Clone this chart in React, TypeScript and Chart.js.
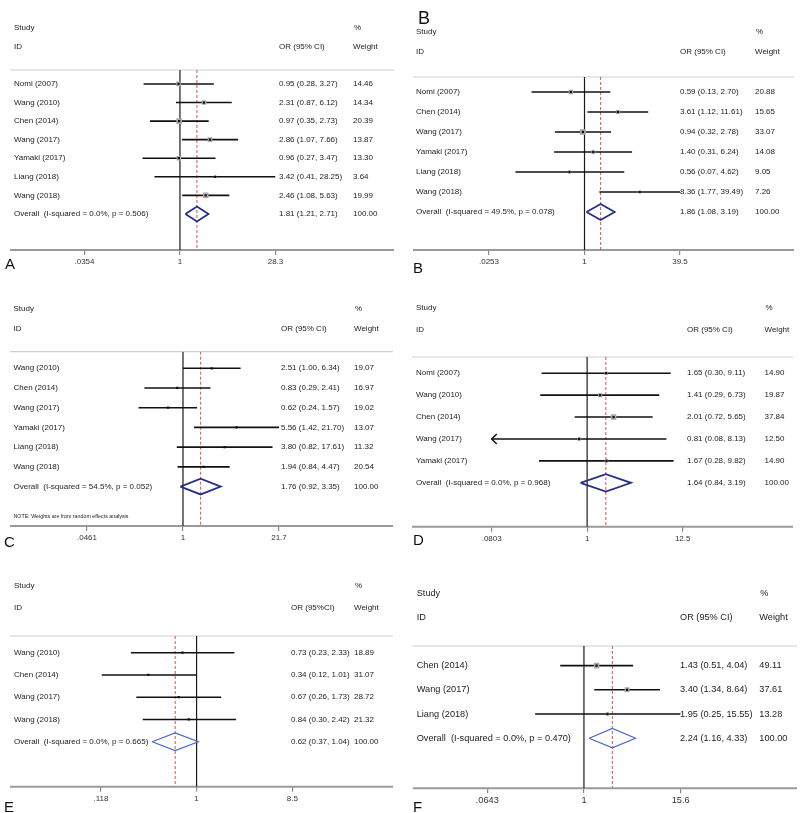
import React, { useEffect, useRef } from "react";
import { Chart, registerables } from "chart.js";
Chart.register(...registerables);

const FONT = '"Liberation Sans", Arial, Helvetica, sans-serif';

// ---------- Panel A ----------
const A_studies = ["Nomi (2007)", "Wang (2010)", "Chen (2014)", "Wang (2017)", "Yamaki (2017)", "Liang (2018)", "Wang (2018)"];
const A_or = [0.95, 2.31, 0.97, 2.86, 0.96, 3.42, 2.46];
const A_lo = [0.28, 0.87, 0.35, 1.07, 0.27, 0.41, 1.08];
const A_hi = [3.27, 6.12, 2.73, 7.66, 3.47, 28.25, 5.63];
const A_weight = [14.46, 14.34, 20.39, 13.87, 13.3, 3.64, 19.99];
const A_overall = [1.81, 1.21, 2.71];
const A_heterogeneity = ["0.0%", "0.506"];
const A_ticks = [0.0354, 1, 28.3];
const A_tickLabels = [".0354", "1", "28.3"];

// ---------- Panel B ----------
const B_studies = ["Nomi (2007)", "Chen (2014)", "Wang (2017)", "Yamaki (2017)", "Liang (2018)", "Wang (2018)"];
const B_or = [0.59, 3.61, 0.94, 1.4, 0.56, 8.36];
const B_lo = [0.13, 1.12, 0.32, 0.31, 0.07, 1.77];
const B_hi = [2.7, 11.61, 2.78, 6.24, 4.62, 39.49];
const B_weight = [20.88, 15.65, 33.07, 14.08, 9.05, 7.26];
const B_overall = [1.86, 1.08, 3.19];
const B_heterogeneity = ["49.5%", "0.078"];
const B_ticks = [0.0253, 1, 39.5];
const B_tickLabels = [".0253", "1", "39.5"];

// ---------- Panel C ----------
const C_studies = ["Wang (2010)", "Chen (2014)", "Wang (2017)", "Yamaki (2017)", "Liang (2018)", "Wang (2018)"];
const C_or = [2.51, 0.83, 0.62, 5.56, 3.8, 1.94];
const C_lo = [1.0, 0.29, 0.24, 1.42, 0.82, 0.84];
const C_hi = [6.34, 2.41, 1.57, 21.7, 17.61, 4.47];
const C_weight = [19.07, 16.97, 19.02, 13.07, 11.32, 20.54];
const C_overall = [1.76, 0.92, 3.35];
const C_heterogeneity = ["54.5%", "0.052"];
const C_ticks = [0.0461, 1, 21.7];
const C_tickLabels = [".0461", "1", "21.7"];

// ---------- Panel D ----------
const D_studies = ["Nomi (2007)", "Wang (2010)", "Chen (2014)", "Wang (2017)", "Yamaki (2017)"];
const D_or = [1.65, 1.41, 2.01, 0.81, 1.67];
const D_lo = [0.3, 0.29, 0.72, 0.08, 0.28];
const D_hi = [9.11, 6.73, 5.65, 8.13, 9.82];
const D_weight = [14.9, 19.87, 37.84, 12.5, 14.9];
const D_overall = [1.64, 0.84, 3.19];
const D_heterogeneity = ["0.0%", "0.968"];
const D_ticks = [0.0803, 1, 12.5];
const D_tickLabels = [".0803", "1", "12.5"];

// ---------- Panel E ----------
const E_studies = ["Wang (2010)", "Chen (2014)", "Wang (2017)", "Wang (2018)"];
const E_or = [0.73, 0.34, 0.67, 0.84];
const E_lo = [0.23, 0.12, 0.26, 0.3];
const E_hi = [2.33, 1.01, 1.73, 2.42];
const E_weight = [18.89, 31.07, 28.72, 21.32];
const E_overall = [0.62, 0.37, 1.04];
const E_heterogeneity = ["0.0%", "0.665"];
const E_ticks = [0.118, 1, 8.5];
const E_tickLabels = [".118", "1", "8.5"];

// ---------- Panel F ----------
const F_studies = ["Chen (2014)", "Wang (2017)", "Liang (2018)"];
const F_or = [1.43, 3.4, 1.95];
const F_lo = [0.51, 1.34, 0.25];
const F_hi = [4.04, 8.64, 15.55];
const F_weight = [49.11, 37.61, 13.28];
const F_overall = [2.24, 1.16, 4.33];
const F_heterogeneity = ["0.0%", "0.470"];
const F_ticks = [0.0643, 1, 15.6];
const F_tickLabels = [".0643", "1", "15.6"];

const AXIS_H = 20;

type Layout = {
  x: number; y: number; w: number; h: number;
  plotL: number; plotR: number; top: number; bottom: number;
  yMin: number; yMax: number;
  labelX: number; orX: number; wX: number; lineL: number; lineR: number;
  font: number; box: number; diamond: string; diamondW: number; orHeader: string;
  letter: string; letterX: number; letterY: number; letterSize: number;
  topLetter?: { text: string; x: number; y: number; size: number };
  note?: string;
};

const panels = [
  {
    data: { studies: A_studies, or: A_or, lo: A_lo, hi: A_hi, weight: A_weight, overall: A_overall, het: A_heterogeneity, ticks: A_ticks, tickLabels: A_tickLabels },
    layout: { x: 0, y: 0, w: 400, h: 276, plotL: 84.5, plotR: 275.5, top: 70, bottom: 250, yMin: -0.75, yMax: 8.94, labelX: 14, orX: 279, wX: 353, lineL: 10, lineR: 394, font: 8, box: 1.25, diamond: "#283086", diamondW: 1.8, orHeader: "OR (95% CI)", letter: "A", letterX: 5, letterY: 263, letterSize: 15 } as Layout,
  },
  {
    data: { studies: B_studies, or: B_or, lo: B_lo, hi: B_hi, weight: B_weight, overall: B_overall, het: B_heterogeneity, ticks: B_ticks, tickLabels: B_tickLabels },
    layout: { x: 400, y: 0, w: 400, h: 276, plotL: 489, plotR: 680, top: 77, bottom: 250, yMin: -0.75, yMax: 7.9, labelX: 416, orX: 680, wX: 755, lineL: 413, lineR: 794, font: 8, box: 1.0, diamond: "#283086", diamondW: 1.8, orHeader: "OR (95% CI)", letter: "B", letterX: 413, letterY: 267, letterSize: 15, topLetter: { text: "B", x: 418, y: 18, size: 18 } } as Layout,
  },
  {
    data: { studies: C_studies, or: C_or, lo: C_lo, hi: C_hi, weight: C_weight, overall: C_overall, het: C_heterogeneity, ticks: C_ticks, tickLabels: C_tickLabels },
    layout: { x: 0, y: 270, w: 400, h: 276, plotL: 87, plotR: 279, top: 351.7, bottom: 526, yMin: -0.84, yMax: 8.0, labelX: 13.5, orX: 281, wX: 354, lineL: 10, lineR: 393, font: 8, box: 0, diamond: "#283086", diamondW: 1.8, orHeader: "OR (95% CI)", letter: "C", letterX: 4, letterY: 541, letterSize: 15, note: "NOTE: Weights are from random effects analysis" } as Layout,
  },
  {
    data: { studies: D_studies, or: D_or, lo: D_lo, hi: D_hi, weight: D_weight, overall: D_overall, het: D_heterogeneity, ticks: D_ticks, tickLabels: D_tickLabels },
    layout: { x: 400, y: 270, w: 400, h: 276, plotL: 491.7, plotR: 682.7, top: 357, bottom: 526.7, yMin: -0.74, yMax: 7.0, labelX: 416, orX: 687, wX: 764.5, lineL: 412, lineR: 793, font: 8, box: 0.9, diamond: "#283086", diamondW: 1.8, orHeader: "OR (95% CI)", letter: "D", letterX: 413, letterY: 539, letterSize: 15 } as Layout,
  },
  {
    data: { studies: E_studies, or: E_or, lo: E_lo, hi: E_hi, weight: E_weight, overall: E_overall, het: E_heterogeneity, ticks: E_ticks, tickLabels: E_tickLabels },
    layout: { x: 0, y: 546, w: 400, h: 267, plotL: 101, plotR: 292.3, top: 636, bottom: 786.7, yMin: -0.75, yMax: 6.02, labelX: 14, orX: 291, wX: 354, lineL: 10, lineR: 393, font: 8, box: 0, diamond: "#4a68c8", diamondW: 1.2, orHeader: "OR (95%CI)", letter: "E", letterX: 4, letterY: 806, letterSize: 15 } as Layout,
  },
  {
    data: { studies: F_studies, or: F_or, lo: F_lo, hi: F_hi, weight: F_weight, overall: F_overall, het: F_heterogeneity, ticks: F_ticks, tickLabels: F_tickLabels },
    layout: { x: 400, y: 546, w: 400, h: 267, plotL: 487.3, plotR: 680.7, top: 646, bottom: 788.3, yMin: -0.81, yMax: 5.07, labelX: 416.7, orX: 680, wX: 759.3, lineL: 412.7, lineR: 797, font: 9.2, box: 0.8, diamond: "#4a68c8", diamondW: 1.2, orHeader: "OR (95% CI)", letter: "F", letterX: 413, letterY: 806, letterSize: 15 } as Layout,
  },
];

function makePlugin(d: any, L: Layout) {
  return {
    id: "forestDecor",
    beforeDatasetsDraw(chart: any) {
      const { ctx, chartArea } = chart;
      const ox = L.x;
      ctx.save();
      ctx.strokeStyle = "#cfcfcf";
      ctx.lineWidth = 1.2;
      ctx.beginPath();
      ctx.moveTo(L.lineL - ox, chartArea.top);
      ctx.lineTo(L.lineR - ox, chartArea.top);
      ctx.stroke();
      ctx.strokeStyle = "#9a9a9a";
      ctx.lineWidth = 2;
      ctx.beginPath();
      ctx.moveTo(L.lineL - ox, chartArea.bottom);
      ctx.lineTo(L.lineR - ox, chartArea.bottom);
      ctx.stroke();
      ctx.restore();
    },
    afterDraw(chart: any) {
      const { ctx } = chart;
      const xs = chart.scales.x;
      const ys = chart.scales.y;
      const ox = L.x;
      const n = d.studies.length;
      ctx.save();
      ctx.strokeStyle = "#111";
      ctx.lineWidth = 1.5;
      for (let i = 0; i < n; i++) {
        const yy = ys.getPixelForValue(i);
        if (d.lo[i] < d.ticks[0]) {
          const x0 = xs.getPixelForValue(d.ticks[0]);
          ctx.beginPath();
          ctx.moveTo(x0 + 5, yy - 5);
          ctx.lineTo(x0, yy);
          ctx.lineTo(x0 + 5, yy + 5);
          ctx.stroke();
        }
        if (d.hi[i] > d.ticks[2]) {
          const x1 = xs.getPixelForValue(d.ticks[2]);
          ctx.beginPath();
          ctx.moveTo(x1 - 5, yy - 5);
          ctx.lineTo(x1, yy);
          ctx.lineTo(x1 - 5, yy + 5);
          ctx.stroke();
        }
      }
      ctx.fillStyle = "#1c1c1c";
      ctx.textBaseline = "middle";
      ctx.textAlign = "left";
      ctx.font = `${L.font}px ${FONT}`;
      const lx = L.labelX - ox, orx = L.orX - ox, wx = L.wX - ox;
      ctx.fillText("Study", lx, ys.getPixelForValue(-3));
      ctx.fillText("ID", lx, ys.getPixelForValue(-2));
      ctx.fillText("%", wx + 1, ys.getPixelForValue(-3));
      ctx.fillText("Weight", wx, ys.getPixelForValue(-2));
      ctx.fillText(L.orHeader, orx, ys.getPixelForValue(-2));
      for (let i = 0; i < n; i++) {
        const yy = ys.getPixelForValue(i);
        ctx.fillText(d.studies[i], lx, yy);
        ctx.fillText(`${d.or[i].toFixed(2)} (${d.lo[i].toFixed(2)}, ${d.hi[i].toFixed(2)})`, orx, yy);
        ctx.fillText(d.weight[i].toFixed(2), wx, yy);
      }
      const yo = ys.getPixelForValue(n);
      ctx.fillText(`Overall  (I-squared = ${d.het[0]}, p = ${d.het[1]})`, lx, yo);
      ctx.fillText(`${d.overall[0].toFixed(2)} (${d.overall[1].toFixed(2)}, ${d.overall[2].toFixed(2)})`, orx, yo);
      ctx.fillText("100.00", wx, yo);
      if (L.note) {
        ctx.font = `5.3px ${FONT}`;
        ctx.fillText(L.note, lx, ys.getPixelForValue(n + 1.5));
      }
      ctx.restore();
    },
  };
}

function ForestPanel({ data, layout }: { data: any; layout: Layout }) {
  const ref = useRef<HTMLCanvasElement>(null);
  useEffect(() => {
    const d = data;
    const L = layout;
    const n = d.studies.length;
    const datasets: any[] = [];
    datasets.push({
      data: d.or.map((v: number, i: number) => ({ x: v, y: i })),
      pointStyle: "rect",
      pointRadius: 1.6,
      backgroundColor: "#111",
      borderWidth: 0,
    });
    if (L.box > 0) {
      datasets.push({
        data: d.or.map((v: number, i: number) => ({ x: v, y: i })),
        pointStyle: "rect",
        pointRadius: (c: any) => (L.box * Math.sqrt(d.weight[c.dataIndex])) / Math.SQRT2,
        backgroundColor: "#a9a9a9",
        borderWidth: 0,
      });
    }
    for (let i = 0; i < n; i++) {
      datasets.push({
        data: [{ x: d.lo[i], y: i }, { x: d.hi[i], y: i }],
        showLine: true,
        borderColor: "#111",
        borderWidth: 1.6,
        pointRadius: 0,
      });
    }
    datasets.push({
      data: [
        { x: d.overall[1], y: n },
        { x: d.overall[0], y: n - 0.4 },
        { x: d.overall[2], y: n },
        { x: d.overall[0], y: n + 0.4 },
        { x: d.overall[1], y: n },
      ],
      showLine: true,
      borderColor: L.diamond,
      borderWidth: L.diamondW,
      pointRadius: 0,
      tension: 0,
    });
    datasets.push({
      data: [{ x: d.overall[0], y: L.yMin }, { x: d.overall[0], y: L.yMax }],
      showLine: true,
      borderColor: "#d9534f",
      borderDash: [3, 2],
      borderWidth: 1,
      pointRadius: 0,
    });
    datasets.push({
      data: [{ x: 1, y: L.yMin }, { x: 1, y: L.yMax }],
      showLine: true,
      borderColor: "#1a1a1a",
      borderWidth: 1.2,
      pointRadius: 0,
    });

    const chart = new Chart(ref.current as HTMLCanvasElement, {
      type: "scatter",
      data: { datasets },
      options: {
        animation: false,
        responsive: false,
        devicePixelRatio: 1,
        events: [],
        layout: {
          padding: {
            left: L.plotL - L.x,
            right: L.x + L.w - L.plotR,
            top: L.top - L.y,
            bottom: L.y + L.h - L.bottom - AXIS_H,
          },
        },
        plugins: { legend: { display: false }, tooltip: { enabled: false } },
        scales: {
          x: {
            type: "logarithmic",
            min: d.ticks[0],
            max: d.ticks[2],
            afterBuildTicks: (s: any) => {
              s.ticks = d.ticks.map((v: number) => ({ value: v }));
            },
            afterFit: (s: any) => {
              s.height = AXIS_H;
            },
            grid: { drawOnChartArea: false, drawTicks: true, tickLength: 5, color: "#8a8a8a", lineWidth: 1.2 },
            border: { display: false },
            ticks: {
              autoSkip: false,
              maxRotation: 0,
              padding: 2,
              color: "#333",
              font: { family: FONT, size: L.font },
              callback: (_v: any, i: number) => d.tickLabels[i],
            },
          },
          y: { type: "linear", reverse: true, min: L.yMin, max: L.yMax, display: false },
        },
      } as any,
      plugins: [makePlugin(d, L)],
    });
    return () => chart.destroy();
  }, []);
  return (
    <canvas
      ref={ref}
      width={layout.w}
      height={layout.h}
      style={{ position: "absolute", left: layout.x, top: layout.y, width: layout.w, height: layout.h }}
    />
  );
}

function Letter({ text, x, y, size }: { text: string; x: number; y: number; size: number }) {
  return (
    <div
      style={{
        position: "absolute",
        left: x,
        top: y - size / 2,
        fontFamily: FONT,
        fontSize: size,
        lineHeight: `${size}px`,
        color: "#111",
        whiteSpace: "nowrap",
      }}
    >
      {text}
    </div>
  );
}

export default function App() {
  return (
    <div style={{ position: "absolute", left: 0, top: 0, width: 800, height: 813, background: "#fff", overflow: "hidden" }}>
      {panels.map((p, i) => (
        <ForestPanel key={i} data={p.data} layout={p.layout} />
      ))}
      {panels.map((p, i) => (
        <Letter key={"l" + i} text={p.layout.letter} x={p.layout.letterX} y={p.layout.letterY} size={p.layout.letterSize} />
      ))}
      {panels
        .filter((p) => p.layout.topLetter)
        .map((p, i) => (
          <Letter key={"t" + i} text={p.layout.topLetter!.text} x={p.layout.topLetter!.x} y={p.layout.topLetter!.y} size={p.layout.topLetter!.size} />
        ))}
    </div>
  );
}
